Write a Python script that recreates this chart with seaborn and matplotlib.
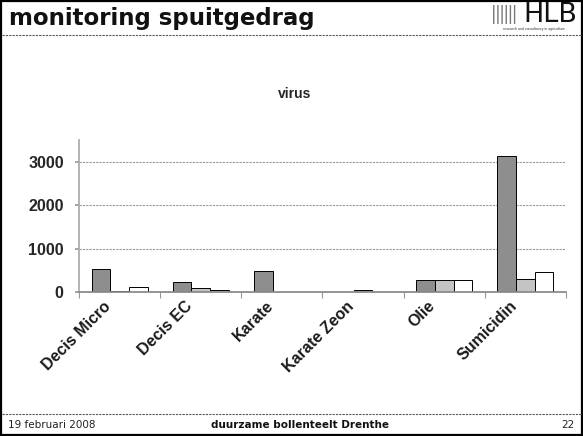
import numpy as np
import pandas as pd
import matplotlib
matplotlib.use("Agg")
import matplotlib.pyplot as plt
from matplotlib.patches import Rectangle
from matplotlib.lines import Line2D
import matplotlib.transforms as mtransforms
import seaborn as sns

categories = ["Decis Micro", "Decis EC", "Karate", "Karate Zeon", "Olie", "Sumicidin"]
series_names = ["reeks 1", "reeks 2", "reeks 3"]
series1 = [540, 240, 478, 0, 265, 3130]
series2 = [30, 85, 0, 35, 265, 310]
series3 = [110, 55, 0, 0, 265, 455]
y_ticks = [0, 1000, 2000, 3000]
chart_title = "virus"
slide_title = "monitoring spuitgedrag"
footer_left = "19 februari 2008"
footer_mid = "duurzame bollenteelt Drenthe"
footer_right = "22"

rows = []
for name, vals in zip(series_names, [series1, series2, series3]):
    for c, v in zip(categories, vals):
        rows.append({"cat": c, "serie": name, "waarde": v})
df = pd.DataFrame(rows)

sns.set_theme(style="white")
plt.rcParams["font.family"] = ["Liberation Sans", "DejaVu Sans"]

W, H = 583, 436
fig = plt.figure(figsize=(W / 100, H / 100), dpi=100)
ax = fig.add_axes([79 / W, 1 - 292 / H, (566 - 79) / W, (292 - 140) / H])

palette = {"reeks 1": "#8e8e8e", "reeks 2": "#c4c4c4", "reeks 3": "#ffffff"}
sns.barplot(data=df, x="cat", y="waarde", hue="serie", palette=palette,
            width=0.69, edgecolor="black", linewidth=0.7, ax=ax, legend=False,
            saturation=1)

ax.set_ylim(0, 3500)
ax.set_xlim(-0.5, len(categories) - 0.5)
ax.set_yticks(y_ticks)
ax.set_yticklabels([str(t) for t in y_ticks], fontsize=11.5, fontweight="bold")
ax.yaxis.grid(True, color="#999999", linestyle=(0, (2, 1)), linewidth=0.8)
ax.set_axisbelow(True)
ax.set_xlabel("")
ax.set_ylabel("")
ax.set_xticks(range(len(categories)))
ax.set_xticklabels([""] * len(categories))
ax.tick_params(axis="x", length=0)
offset = mtransforms.ScaledTranslation(-0.165, -0.065, fig.dpi_scale_trans)
for i, cat in enumerate(categories):
    ax.text(i, 0, cat, transform=ax.get_xaxis_transform() + offset,
            rotation=45, ha="right", va="top", rotation_mode="anchor",
            fontsize=11.5, fontweight="bold", color="#1a1a1a")
ax.set_xticks(np.arange(-0.5, len(categories), 1), minor=True)
ax.tick_params(axis="x", which="minor", length=4, color="#999999", width=0.8, bottom=True)
ax.tick_params(axis="y", length=3, color="#999999", left=True, pad=8)
for s in ["top", "right"]:
    ax.spines[s].set_visible(False)
ax.spines["left"].set_color("#aaaaaa")
ax.spines["left"].set_linestyle((0, (2, 1)))
ax.spines["bottom"].set_color("#888888")
ax.spines["bottom"].set_linestyle((0, (2, 1)))

fig.text(295 / W, 1 - 94 / H, chart_title, ha="center", va="center",
         fontsize=10, fontweight="bold")

# slide decorations
fig.text(9 / W, 1 - 19 / H, slide_title, ha="left", va="center",
         fontsize=16.5, fontweight="bold", family=["DejaVu Sans"], color="#111111")
fig.add_artist(Line2D([2 / W, 581 / W], [1 - 35 / H, 1 - 35 / H], color="#555555",
                      linewidth=0.8, linestyle=(0, (2, 1))))
fig.add_artist(Line2D([2 / W, 581 / W], [1 - 414 / H, 1 - 414 / H], color="#555555",
                      linewidth=0.8, linestyle=(0, (2, 1))))
fig.text(8 / W, 1 - 425 / H, footer_left, ha="left", va="center", fontsize=7.5,
         family=["DejaVu Sans"], color="#222222")
fig.text(300 / W, 1 - 425 / H, footer_mid, ha="center", va="center", fontsize=7.5,
         fontweight="bold", family=["DejaVu Sans"], color="#111111")
fig.text(574 / W, 1 - 425 / H, footer_right, ha="right", va="center", fontsize=7.5,
         family=["DejaVu Sans"], color="#222222")
# HLB logo
fig.add_artist(Rectangle((492 / W, 1 - 24 / H), 26 / W, 19 / H, facecolor="white",
                         edgecolor="#777777", hatch="||||", linewidth=0))
fig.text(550 / W, 1 - 15 / H, "HLB", ha="center", va="center", fontsize=19.5,
         family=["DejaVu Sans"], color="#111111")
fig.text(534 / W, 1 - 29 / H, "research and consultancy in agriculture", ha="center",
         va="center", fontsize=2.5, color="#333333")
fig.add_artist(Rectangle((1 / W, 1 / H), 581 / W, 434 / H, fill=False,
                         edgecolor="black", linewidth=1.6))

fig.savefig("out.png", dpi=100)
